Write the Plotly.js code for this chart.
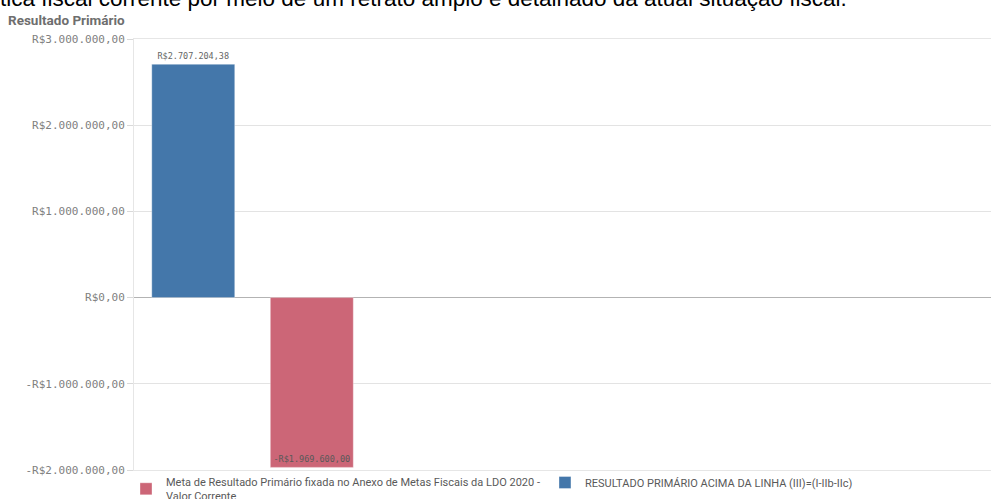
<!DOCTYPE html>
<html>
<head>
<meta charset="utf-8">
<script src="https://cdn.plot.ly/plotly-3.0.1.min.js"></script>
<style>html,body{margin:0;padding:0;background:#fff;}#chart{width:991px;height:499px;}</style>
</head>
<body>
<div id="chart"></div>
<script>
// ---- data ----
const seriesNames = [
  "RESULTADO PRIMÁRIO ACIMA DA LINHA (III)=(I-IIb-IIc)",
  "Meta de Resultado Primário fixada no Anexo de Metas Fiscais da LDO 2020 - Valor Corrente"
];
const legendLabels = [
  "RESULTADO PRIMÁRIO ACIMA DA LINHA (III)=(I-IIb-IIc)",
  "Meta de Resultado Primário fixada no Anexo de Metas Fiscais da LDO 2020 -<br>Valor Corrente"
];
const seriesValues = [2707204.38, -1969600.00];
const seriesColors = ["#4477aa", "#cc6677"];
const tickValues = [-2000000, -1000000, 0, 1000000, 2000000, 3000000];
const chartTitle = "Resultado Primário";
const pageText = "tica fiscal corrente por meio de um retrato amplo e detalhado da atual situação fiscal.";

function brl(v) {
  const neg = v < 0;
  const parts = Math.abs(v).toFixed(2).split(".");
  const intPart = parts[0].replace(/\B(?=(\d{3})+(?!\d))/g, ".");
  return (neg ? "-" : "") + "R$" + intPart + "," + parts[1];
}
const tickText = tickValues.map(brl);

const numFont = "DejaVu Sans Mono, monospace";
const PH = 431; // plot height px (470 - 39)
const PW = 857; // plot width px (991 - 134)

const blueTrace = {
  type: "bar",
  name: legendLabels[0],
  x: [seriesNames[0]],
  y: [seriesValues[0]],
  width: 0.70,
  marker: {color: seriesColors[0], line: {color: "rgba(255,255,255,0.35)", width: 1}},
  text: [brl(seriesValues[0])],
  textposition: "outside",
  textfont: {family: numFont, size: 8.5, color: "#666666"},
  cliponaxis: false,
  hoverinfo: "skip"
};
const redTrace = {
  type: "bar",
  name: legendLabels[1],
  x: [seriesNames[1]],
  y: [seriesValues[1]],
  width: 0.70,
  marker: {color: seriesColors[1], line: {color: "rgba(255,255,255,0.35)", width: 1}},
  text: [brl(seriesValues[1])],
  textposition: "inside",
  insidetextanchor: "end",
  constraintext: "none",
  textfont: {family: numFont, size: 8.5, color: "#595959"},
  hoverinfo: "skip"
};

const layout = {
  width: 991, height: 499,
  margin: {l: 134, r: 0, t: 39, b: 29, pad: 0, autoexpand: false},
  paper_bgcolor: "#ffffff",
  plot_bgcolor: "#ffffff",
  barmode: "overlay",
  showlegend: true,
  title: {
    text: "<b>" + chartTitle + "</b>",
    xref: "container", yref: "container",
    x: 8/991, xanchor: "left",
    y: 1 - 20/499, yanchor: "middle",
    font: {family: "Roboto, sans-serif", size: 13.5, color: "#6e6e6e"}
  },
  xaxis: {
    type: "category",
    categoryorder: "array",
    categoryarray: seriesNames,
    range: [-0.5, 6.73],
    showticklabels: false,
    ticks: "",
    showgrid: false,
    zeroline: false,
    showline: true,
    mirror: true,
    linecolor: "#e6e6e6",
    linewidth: 1,
    fixedrange: true
  },
  yaxis: {
    range: [-2000000, 3000000],
    tickmode: "array",
    tickvals: tickValues,
    ticktext: tickText,
    ticks: "outside",
    ticklen: 6,
    tickcolor: "#d9d9d9",
    tickfont: {family: numFont, size: 11, color: "#808080"},
    showgrid: true,
    gridcolor: "#e3e3e3",
    gridwidth: 1,
    zeroline: true,
    zerolinecolor: "#b3b3b3",
    zerolinewidth: 1,
    showline: true,
    linecolor: "#e6e6e6",
    linewidth: 1,
    fixedrange: true
  },
  legend: {
    orientation: "h",
    x: -8/PW, xanchor: "left",
    y: -(489 - 470)/PH, yanchor: "middle",
    traceorder: "reversed",
    font: {family: "Roboto, sans-serif", size: 11, color: "#595959"},
    itemwidth: 30,
    bgcolor: "rgba(0,0,0,0)"
  },
  annotations: [{
    text: pageText,
    xref: "paper", yref: "paper",
    x: -136/PW, xanchor: "left",
    y: 1 + (39 - 13)/PH, yanchor: "bottom",
    showarrow: false,
    font: {family: "Liberation Sans, Arial, sans-serif", size: 22.5, color: "#000000"}
  }]
};

Plotly.newPlot("chart", [blueTrace, redTrace], layout, {displayModeBar: false, staticPlot: true});
</script>
</body>
</html>
